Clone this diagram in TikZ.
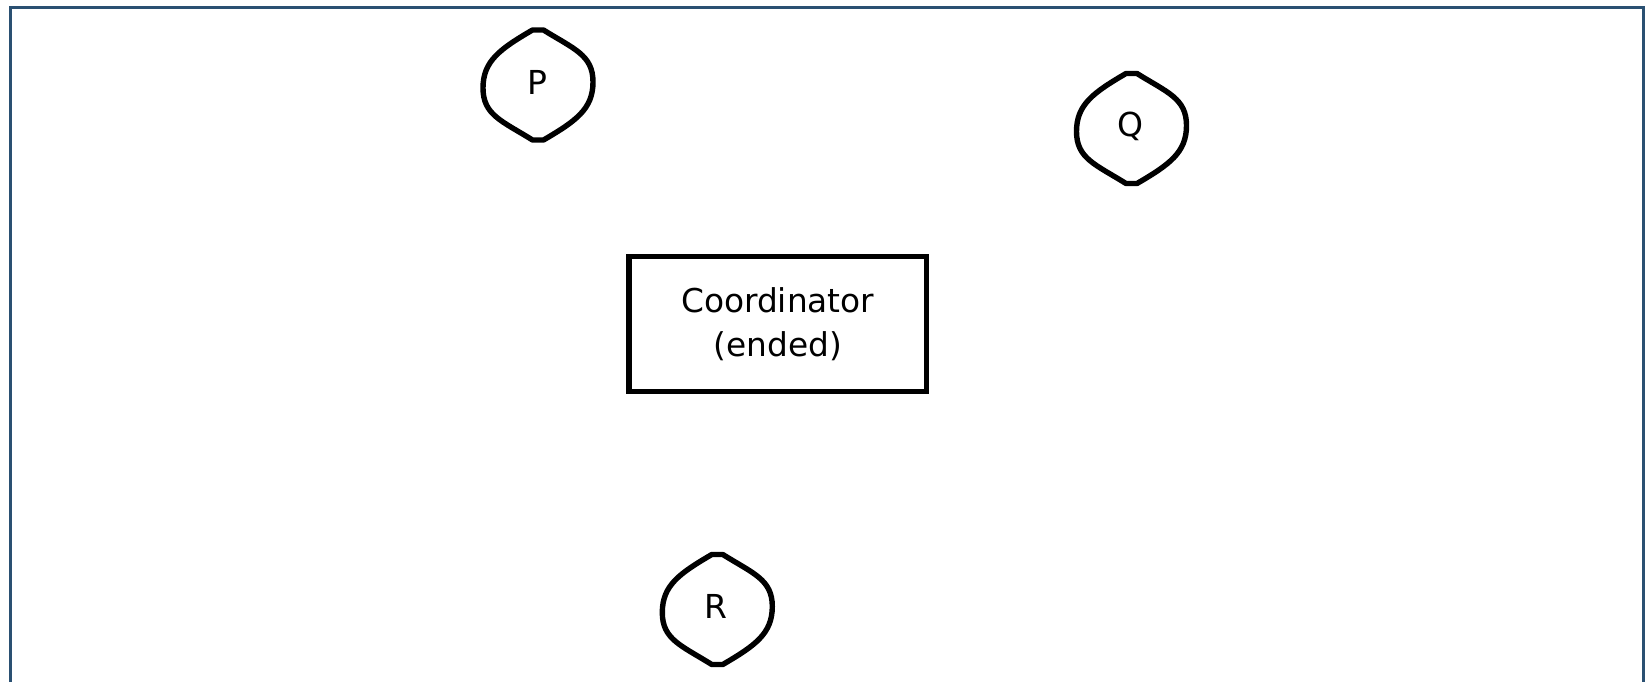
\documentclass[tikz,border=0pt]{standalone}
\usepackage{fontspec}
\setmainfont{DejaVu Sans}
\definecolor{framecol}{RGB}{42,80,114}
\tikzset{
  px/.style={x=0.5bp,y=-0.5bp},
  blob/.style={draw=black,line width=2.7bp,line join=round},
  blobtext/.style={inner sep=0pt,font=\fontsize{16.5bp}{19bp}\selectfont},
  coordbox/.style={draw=black,line width=2.6bp,inner sep=0pt,
    minimum width=148.75bp,minimum height=67.5bp,align=center,
    font=\fontsize{16.4bp}{22bp}\selectfont},
}
% rounded lens outline with short flat caps at top and bottom
\newcommand{\lensshape}[1]{%
  \draw[blob,shift={(#1)}]
    (-5.5,-55) -- (5.5,-55)
    .. controls (36,-36) and (55,-30) .. (55,-3)
    .. controls (55,24) and (38,36) .. (5.5,55)
    -- (-5.5,55)
    .. controls (-36,36) and (-55,30) .. (-55,3)
    .. controls (-55,-24) and (-38,-36) .. (-5.5,-55) -- cycle;}
\begin{document}
\begin{tikzpicture}[px]
  \useasboundingbox (0,0) rectangle (1646,682);
  \clip (0,0) rectangle (1646,682);
  \fill[white] (0,0) rectangle (1646,682);
  % outer frame, open at the bottom edge
  \draw[framecol,line width=1.5bp] (10.5,7.2) rectangle (1643.3,700);

  \node[coordbox] (coord) at (777.75,324) {Coordinator\\(ended)};

  \lensshape{538,85}
  \node[blobtext] (P) at (537,82.7) {P};

  \lensshape{1131.5,128.5}
  \node[blobtext] (Q) at (1130,126) {Q};

  \lensshape{717.3,609.5}
  \node[blobtext] (R) at (715.5,606.7) {R};
\end{tikzpicture}
\end{document}
